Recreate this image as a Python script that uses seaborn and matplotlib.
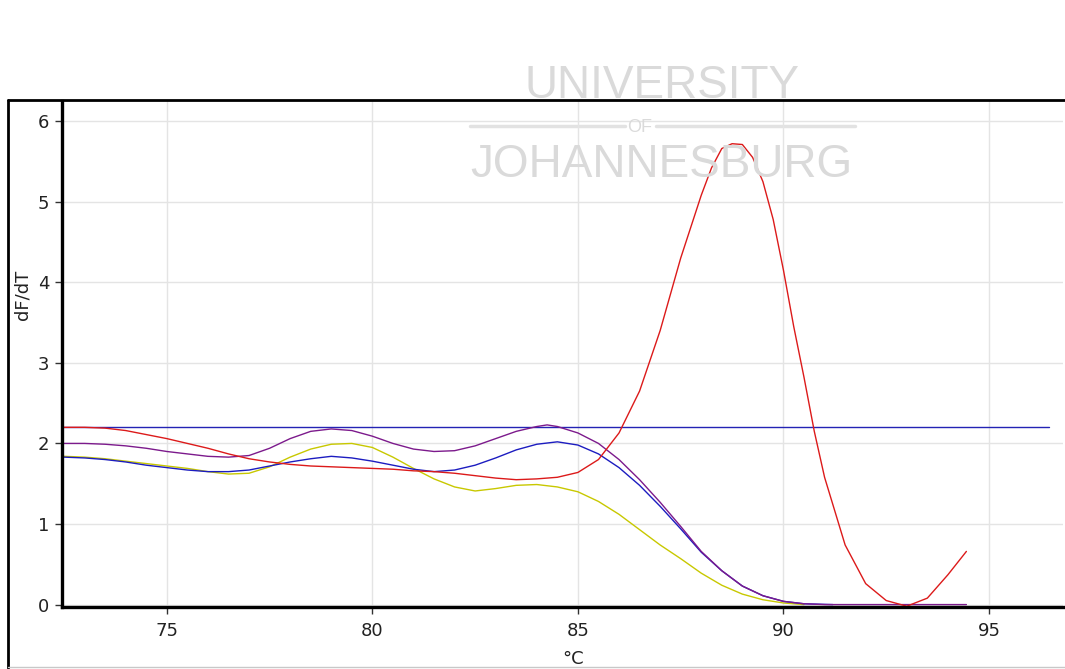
import numpy as np
import pandas as pd
import matplotlib
matplotlib.use("Agg")
import matplotlib.pyplot as plt
from matplotlib.lines import Line2D
import seaborn as sns

# ---- data ----
temp_red = [72.5, 73.0, 73.5, 74.0, 74.5, 75.0, 75.5, 76.0, 76.5, 77.0, 77.5, 78.0, 78.5,
            79.0, 79.5, 80.0, 80.5, 81.0, 81.5, 82.0, 82.5, 83.0, 83.5, 84.0, 84.5, 85.0,
            85.5, 86.0, 86.5, 87.0, 87.5, 88.0, 88.25, 88.5, 88.75, 89.0, 89.25, 89.5, 89.75,
            90.0, 90.25, 90.5, 90.75, 91.0, 91.5, 92.0, 92.5, 93.0, 93.5, 94.0, 94.45]
dfdt_red = [2.20, 2.20, 2.19, 2.16, 2.11, 2.06, 2.00, 1.94, 1.87, 1.81, 1.77, 1.74, 1.72,
            1.71, 1.70, 1.69, 1.68, 1.66, 1.65, 1.63, 1.60, 1.57, 1.55, 1.56, 1.58, 1.64,
            1.80, 2.13, 2.65, 3.40, 4.30, 5.08, 5.42, 5.66, 5.72, 5.71, 5.55, 5.25, 4.78,
            4.15, 3.45, 2.82, 2.15, 1.58, 0.74, 0.26, 0.05, -0.02, 0.08, 0.37, 0.66]

temp_purple = [72.5, 73.0, 73.5, 74.0, 74.5, 75.0, 75.5, 76.0, 76.5, 77.0, 77.5, 78.0, 78.5,
               79.0, 79.5, 80.0, 80.5, 81.0, 81.5, 82.0, 82.5, 83.0, 83.5, 84.0, 84.25, 84.5,
               85.0, 85.5, 86.0, 86.5, 87.0, 87.5, 88.0, 88.5, 89.0, 89.5, 90.0, 90.5, 91.0,
               92.0, 93.0, 94.45]
dfdt_purple = [2.00, 2.00, 1.99, 1.97, 1.94, 1.90, 1.87, 1.84, 1.83, 1.85, 1.94, 2.06, 2.15,
               2.18, 2.16, 2.09, 2.00, 1.93, 1.90, 1.91, 1.97, 2.06, 2.15, 2.21, 2.23, 2.21,
               2.13, 2.00, 1.80, 1.55, 1.27, 0.97, 0.66, 0.42, 0.23, 0.11, 0.04, 0.01, 0.0,
               0.0, 0.0, 0.0]

temp_blue = [72.5, 73.0, 73.5, 74.0, 74.5, 75.0, 75.5, 76.0, 76.5, 77.0, 77.5, 78.0, 78.5,
             79.0, 79.5, 80.0, 80.5, 81.0, 81.5, 82.0, 82.5, 83.0, 83.5, 84.0, 84.5, 85.0,
             85.5, 86.0, 86.5, 87.0, 87.5, 88.0, 88.5, 89.0, 89.5, 90.0, 90.5, 91.2]
dfdt_blue = [1.83, 1.82, 1.80, 1.77, 1.73, 1.70, 1.67, 1.65, 1.65, 1.67, 1.72, 1.77, 1.81,
             1.84, 1.82, 1.78, 1.73, 1.68, 1.65, 1.67, 1.73, 1.82, 1.92, 1.99, 2.02, 1.98,
             1.87, 1.70, 1.48, 1.22, 0.94, 0.65, 0.42, 0.23, 0.11, 0.04, 0.01, 0.0]

temp_yellow = [72.5, 73.0, 73.5, 74.0, 74.5, 75.0, 75.5, 76.0, 76.5, 77.0, 77.5, 78.0, 78.5,
               79.0, 79.5, 80.0, 80.5, 81.0, 81.5, 82.0, 82.5, 83.0, 83.5, 84.0, 84.5, 85.0,
               85.5, 86.0, 86.5, 87.0, 87.5, 88.0, 88.5, 89.0, 89.5, 90.0, 90.5]
dfdt_yellow = [1.84, 1.83, 1.81, 1.78, 1.75, 1.72, 1.69, 1.65, 1.62, 1.63, 1.71, 1.83, 1.93,
               1.99, 2.00, 1.95, 1.83, 1.69, 1.56, 1.46, 1.41, 1.44, 1.48, 1.49, 1.46, 1.40,
               1.28, 1.12, 0.93, 0.74, 0.57, 0.39, 0.24, 0.13, 0.06, 0.02, 0.0]

temp_threshold = [72.45, 96.45]
dfdt_threshold = [2.2, 2.2]

x_ticks = [75, 80, 85, 90, 95]
y_ticks = [0, 1, 2, 3, 4, 5, 6]

# ---- figure ----
sns.set_theme(style="white")
plt.rcParams['font.family'] = ['DejaVu Sans']

W, H = 1065, 669
fig = plt.figure(figsize=(W / 100, H / 100), dpi=100)
fig.patch.set_facecolor("white")
ax = fig.add_axes([62 / W, 1 - 607 / H, (1063 - 62) / W, (607 - 101) / H])
ax.set_facecolor("none")

# watermark text
wm = "#dadada"
fig.text(662 / W, 1 - 86 / H, "UNIVERSITY", ha="center", va="center",
         fontsize=33, color=wm, family="Liberation Sans", zorder=0)
fig.text(640 / W, 1 - 127 / H, "OF", ha="center", va="center",
         fontsize=13, color=wm, family="Liberation Sans", zorder=0)
fig.add_artist(Line2D([470 / W, 625 / W], [1 - 126 / H] * 2, color="#e2e2e2", lw=2.5, zorder=0))
fig.add_artist(Line2D([656 / W, 855 / W], [1 - 126 / H] * 2, color="#e2e2e2", lw=2.5, zorder=0))
fig.text(661 / W, 1 - 165 / H, "JOHANNESBURG", ha="center", va="center",
         fontsize=33, color=wm, family="Liberation Sans", zorder=0)

lw = 1.0
sns.lineplot(x=temp_threshold, y=dfdt_threshold, ax=ax, color="#2323b4", lw=lw, sort=False)
sns.lineplot(x=temp_yellow, y=dfdt_yellow, ax=ax, color="#c8c800", lw=lw, sort=False)
sns.lineplot(x=temp_blue, y=dfdt_blue, ax=ax, color="#1c1cc0", lw=lw, sort=False)
sns.lineplot(x=temp_purple, y=dfdt_purple, ax=ax, color="#7c1a8c", lw=lw, sort=False)
sns.lineplot(x=temp_red, y=dfdt_red, ax=ax, color="#dc1a1a", lw=lw, sort=False)

ax.set_xlim(72.45, 96.8)
ax.set_ylim(-0.03, 6.25)
ax.set_xticks(x_ticks)
ax.set_yticks(y_ticks)
ax.set_xticklabels([str(t) for t in x_ticks])
ax.set_yticklabels([str(t) for t in y_ticks])
ax.grid(True, color="#e4e4e4", lw=1.0)
ax.set_axisbelow(True)
ax.tick_params(axis="both", direction="out", length=5, width=1, color="#333333",
               labelsize=13, labelcolor="#222222", pad=4, bottom=True, left=True)
ax.tick_params(axis="x", pad=6)
for side in ["top", "right"]:
    ax.spines[side].set_visible(False)
for side in ["left", "bottom"]:
    ax.spines[side].set_visible(True)
    ax.spines[side].set_color("black")
    ax.spines[side].set_linewidth(2.4)
ax.set_xlabel("")
ax.set_ylabel("")

# axis titles
fig.text(22 / W, 1 - 295 / H, "dF/dT", rotation=90, ha="center", va="center",
         fontsize=13, color="#222222")
fig.text(573 / W, 1 - 659 / H, "°C", ha="center", va="center",
         fontsize=13, color="#222222")

# outer frame
fig.add_artist(Line2D([8 / W, 8 / W], [1 - 100 / H, 1 - 668 / H], color="black", lw=2))
fig.add_artist(Line2D([8 / W, 1.0], [1 - 100 / H, 1 - 100 / H], color="black", lw=2))
fig.add_artist(Line2D([8 / W, 1.0], [1 - 667 / H, 1 - 667 / H], color="#c8c8c8", lw=1))

fig.savefig("out.png", dpi=100)
